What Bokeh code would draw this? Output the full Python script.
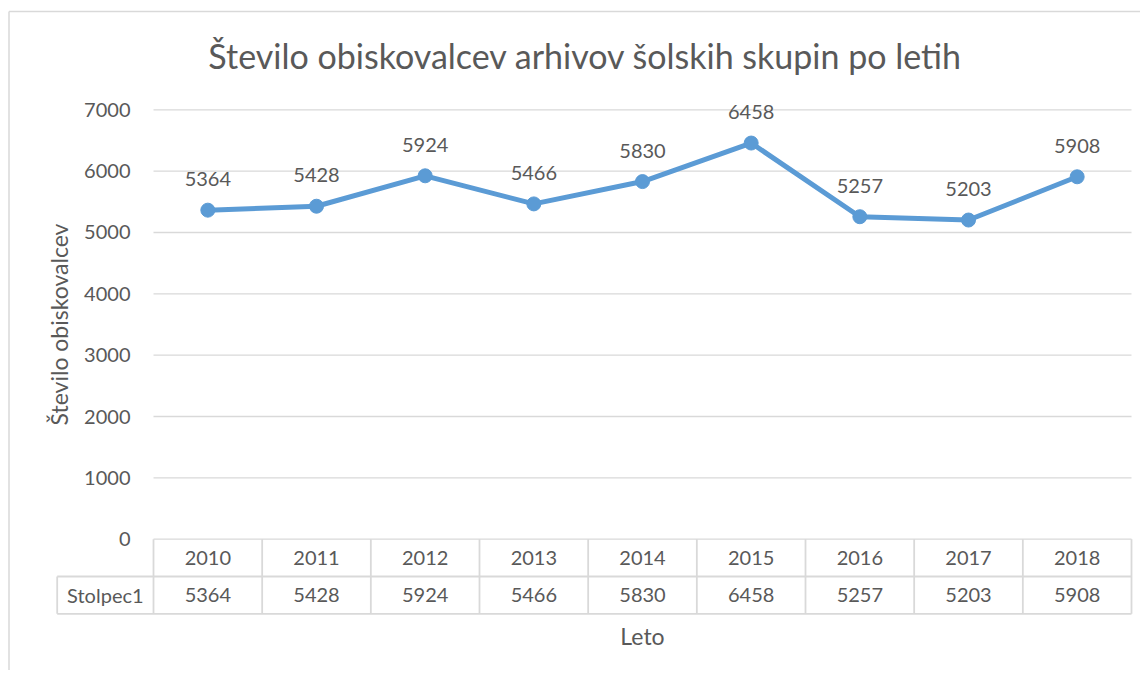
import math
from bokeh.plotting import figure
from bokeh.models import Range1d
from bokeh.core.properties import value
from bokeh.embed import file_html
from bokeh.resources import INLINE

# ---------------- data ----------------
years = ["2010", "2011", "2012", "2013", "2014", "2015", "2016", "2017", "2018"]
visitors = [5364, 5428, 5924, 5466, 5830, 6458, 5257, 5203, 5908]
y_ticks = [0, 1000, 2000, 3000, 4000, 5000, 6000, 7000]
series_name = "Stolpec1"
chart_title = "Število obiskovalcev arhivov šolskih skupin po letih"
y_title = "Število obiskovalcev"
x_title = "Leto"

# ---------------- geometry (pixels inside the figure) ----------------
W, H = 1140, 670
PX_LEFT, PX_RIGHT = 153.0, 1131.0     # plot area left/right
PX_TOP, PX_ZERO = 109.3, 538.7        # y of 7000 and of 0
ROW_PX = 37.3                         # data-table row height
LABEL_COL_PX = 96.3                   # width of the "Stolpec1" column
BORDER_X, BORDER_Y = 8.5, 11.0        # chart border (left / top)

n = len(years)
idx = list(range(n))
cw = (PX_RIGHT - PX_LEFT) / n
ymax = y_ticks[-1]
upp = ymax / (PX_ZERO - PX_TOP)       # data units per pixel

x_start = -0.5 - PX_LEFT / cw
x_end = n - 0.5 + (W - PX_RIGHT) / cw
y_end = ymax + PX_TOP * upp
y_start = -(H - PX_ZERO) * upp

row_h = ROW_PX * upp
lab_left = -0.5 - LABEL_COL_PX / cw

FONT = value("Lato")
TXT = "#595959"
GRID = "#d9d9d9"
BLUE = "#5b9bd5"
FS = "20px"

p = figure(width=W, height=H, x_range=Range1d(x_start, x_end),
           y_range=Range1d(y_start, y_end), output_backend="svg",
           toolbar_location=None, min_border=0, x_axis_type=None,
           y_axis_type=None, background_fill_color="white",
           border_fill_color="white")
p.outline_line_color = None

# chart border (left and top edges visible)
top_y = y_end - BORDER_Y * upp
left_x = x_start + BORDER_X / cw
p.segment(x0=[left_x, left_x], y0=[y_start, top_y], x1=[left_x, x_end],
          y1=[top_y, top_y], line_color=GRID, line_width=1.5)

# gridlines
p.segment(x0=[-0.5] * len(y_ticks), x1=[n - 0.5] * len(y_ticks),
          y0=y_ticks, y1=y_ticks, line_color=GRID, line_width=1.3)

# y tick labels
p.text(x=[-0.5] * len(y_ticks), y=y_ticks, text=[str(t) for t in y_ticks],
       x_offset=-23, text_align="right", text_baseline="middle",
       text_font=FONT, text_font_size=FS, text_color=TXT)

# data table lines
hx0 = [lab_left, lab_left]
hx1 = [n - 0.5, n - 0.5]
hy = [-row_h, -2 * row_h]
p.segment(x0=hx0, x1=hx1, y0=hy, y1=hy, line_color=GRID, line_width=1.8)
vx = [k - 0.5 for k in range(n + 1)]
p.segment(x0=vx, x1=vx, y0=[0] * len(vx), y1=[-2 * row_h] * len(vx),
          line_color=GRID, line_width=1.8)
p.segment(x0=[lab_left], x1=[lab_left], y0=[-row_h], y1=[-2 * row_h],
          line_color=GRID, line_width=1.8)

# table texts
p.text(x=idx, y=[-0.5 * row_h] * n, text=years, text_align="center",
       text_baseline="middle", text_font=FONT, text_font_size=FS,
       text_color=TXT)
p.text(x=idx, y=[-1.5 * row_h] * n, text=[str(v) for v in visitors],
       text_align="center", text_baseline="middle", text_font=FONT,
       text_font_size=FS, text_color=TXT)
p.text(x=[(lab_left - 0.5) / 2], y=[-1.5 * row_h], text=[series_name],
       text_align="center", text_baseline="middle", text_font=FONT,
       text_font_size=FS, text_color=TXT)

# series
p.line(x=idx, y=visitors, line_color=BLUE, line_width=5,
       line_join="round")
p.scatter(x=idx, y=visitors, size=14, fill_color=BLUE, line_color=BLUE)

# data labels
p.text(x=idx, y=visitors, text=[str(v) for v in visitors], y_offset=-31,
       text_align="center", text_baseline="middle", text_font=FONT,
       text_font_size=FS, text_color=TXT)

# titles
p.text(x=[(n - 1) / 2], y=[ymax], text=[chart_title], x_offset=-57,
       y_offset=-54, text_align="center", text_baseline="middle",
       text_font=FONT, text_font_size="34px", text_color=TXT)
p.text(x=[-0.5], y=[ymax / 2], text=[y_title], x_offset=-95,
       angle=math.pi / 2, text_align="center", text_baseline="middle",
       text_font=FONT, text_font_size="23px", text_color=TXT)
p.text(x=[(n - 1) / 2], y=[-2 * row_h], text=[x_title], y_offset=22,
       text_align="center", text_baseline="middle", text_font=FONT,
       text_font_size="23px", text_color=TXT)

open("out.html", "w").write(file_html(p, INLINE))
